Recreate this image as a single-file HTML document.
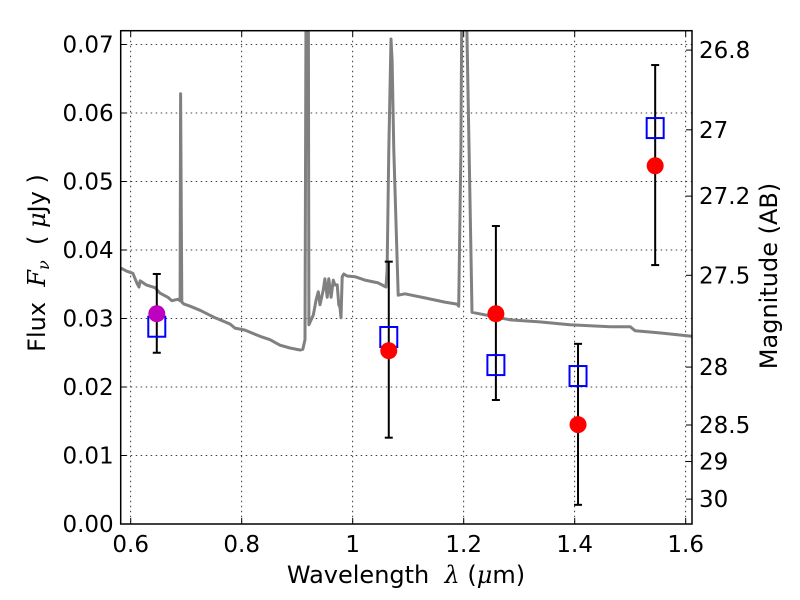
<!DOCTYPE html>
<html><head><meta charset="utf-8"><style>
html,body{margin:0;padding:0;background:#fff;}
svg{display:block;font-family:"DejaVu Sans","Liberation Sans",sans-serif;}
</style></head><body>
<svg id="chart" width="800" height="600" viewBox="0 0 800 600"></svg>
<script>
const xTicks=[0.6,0.8,1.0,1.2,1.4,1.6];
const xTickLabels=["0.6","0.8","1","1.2","1.4","1.6"];
const yTicks=[0,0.01,0.02,0.03,0.04,0.05,0.06,0.07];
const yTickLabels=["0.00","0.01","0.02","0.03","0.04","0.05","0.06","0.07"];
const magTicks=[26.8,27,27.2,27.5,28,28.5,29,30];
const magLabels=["26.8","27","27.2","27.5","28","28.5","29","30"];
const specWave=[0.581,0.593,0.604,0.611,0.615,0.617,0.628,0.644,0.653,0.667,0.674,0.685,0.689,0.690,0.692,0.696,0.707,0.725,0.752,0.779,0.788,0.806,0.833,0.851,0.869,0.887,0.905,0.910,0.914,0.916,0.920,0.921,0.925,0.929,0.934,0.938,0.941,0.947,0.950,0.954,0.957,0.961,0.965,0.968,0.972,0.975,0.977,0.979,0.981,0.984,0.990,1.004,1.022,1.046,1.060,1.062,1.065,1.069,1.071,1.074,1.082,1.094,1.130,1.166,1.188,1.191,1.195,1.197,1.204,1.213,1.215,1.247,1.284,1.337,1.391,1.464,1.500,1.509,1.553,1.611];
const specFlux=[.0374,.0369,.0366,.0352,.0346,.0355,.0349,.0345,.0337,.0331,.0326,.0328,.0326,.0628,.0324,.0321,.0318,.0312,.0301,.0292,.0286,.0283,.0274,.0269,.0261,.0257,.0254,.0255,.0269,.08,.08,.0291,.0298,.0305,.0327,.0339,.0320,.0342,.0358,.0331,.0358,.0331,.0356,.0349,.0349,.0320,.0317,.0301,.0361,.0365,.0362,.0361,.0356,.0352,.0346,.0371,.0546,.0708,.0677,.0546,.0334,.0336,.0330,.0324,.0321,.0318,.0546,.08,.08,.0400,.0309,.0304,.0298,.0295,.0291,.0288,.0288,.0282,.0279,.0274];
const bandWave=[0.647,1.065,1.258,1.406,1.545];
const obsFlux=[0.0307,0.0253,0.0307,0.0145,0.0523];
const modelFlux=[0.0288,0.0273,0.0232,0.0216,0.0578];
const errHigh=[0.0365,0.0383,0.0435,0.0263,0.0670];
const errLow=[0.0250,0.0126,0.0181,0.0028,0.0378];

const L=120.7,R=692,T=30.7,B=524;
const X=v=>130.7+(v-0.6)*555;
const Y=v=>B-v*6850;
const NS="http://www.w3.org/2000/svg";
const svg=document.getElementById('chart');
function el(tag,attrs,parent){const e=document.createElementNS(NS,tag);for(const k in attrs)e.setAttribute(k,attrs[k]);(parent||svg).appendChild(e);return e;}
const defs=el('defs',{});
const cp=el('clipPath',{id:'clip'},defs);el('rect',{x:L,y:T,width:R-L,height:B-T},cp);

const grid=el('g',{});


xTicks.forEach(t=>{el('line',{x1:X(t),x2:X(t),y1:T,y2:B,stroke:'#000','stroke-width':0.8,'stroke-dasharray':'1.5,3.5'},grid);});
yTicks.forEach(t=>{el('line',{x1:L,x2:R,y1:Y(t),y2:Y(t),stroke:'#000','stroke-width':0.8,'stroke-dasharray':'1.5,3.5'},grid);});

const spec=el('path',{d:specWave.map((w,i)=>(i?'L':'M')+X(w).toFixed(1)+','+Y(specFlux[i]).toFixed(1)).join(''),fill:'none',stroke:'#808080','stroke-width':3,'stroke-linejoin':'round','clip-path':'url(#clip)'});



bandWave.forEach((w,i)=>{
  const g=el('g',{});
  
  
  const x=X(w);
  el('line',{x1:x,x2:x,y1:Y(errHigh[i]),y2:Y(errLow[i]),stroke:'#000','stroke-width':2},g);
  el('line',{x1:x-4,x2:x+4,y1:Y(errHigh[i]),y2:Y(errHigh[i]),stroke:'#000','stroke-width':2},g);
  el('line',{x1:x-4,x2:x+4,y1:Y(errLow[i]),y2:Y(errLow[i]),stroke:'#000','stroke-width':2},g);
  el('rect',{x:x-8.5,y:Y(modelFlux[i])-10,width:17,height:20,fill:'none',stroke:'#0000ff','stroke-width':2},g);
  el('circle',{cx:x,cy:Y(obsFlux[i]),r:8.5,fill:i===0?'#bf00bf':'#ff0000'},g);
});

const frame=el('rect',{x:L,y:T,width:R-L,height:B-T,fill:'none',stroke:'#000','stroke-width':1.5});



xTicks.forEach((t,i)=>{
  el('line',{x1:X(t),x2:X(t),y1:B,y2:B-6,stroke:'#000'});
  el('line',{x1:X(t),x2:X(t),y1:T,y2:T+6,stroke:'#000'});
  const tx=el('text',{x:X(t),y:B+28,'font-size':23,'text-anchor':'middle'});tx.textContent=xTickLabels[i];
  
  
});
yTicks.forEach((t,i)=>{
  el('line',{x1:L,x2:L+6,y1:Y(t),y2:Y(t),stroke:'#000'});
  const tx=el('text',{x:L-7,y:Y(t)+8,'font-size':23,'text-anchor':'end'});tx.textContent=yTickLabels[i];
  
  
});
magTicks.forEach((m,i)=>{
  const f=Math.pow(10,(23.9-m)/2.5);const y=Y(f);
  el('line',{x1:R,x2:R-6,y1:y,y2:y,stroke:'#000'});
  const tx=el('text',{x:R+7,y:y+8,'font-size':23});tx.textContent=magLabels[i];
  
  
});
const xl=el('text',{x:406,y:583,'font-size':24,'text-anchor':'middle'});
xl.innerHTML='Wavelength&#160;&#160;<tspan font-family="DejaVu Serif" font-style="italic">λ</tspan> (<tspan font-family="DejaVu Serif" font-style="italic">μ</tspan>m)';


const yl=el('text',{x:0,y:0,'font-size':24,'text-anchor':'middle',transform:'translate(45,263) rotate(-90)'});
yl.innerHTML='Flux&#160;&#160;<tspan font-family="DejaVu Serif" font-style="italic">F<tspan font-size="16" dy="4">ν</tspan></tspan><tspan dy="-4">&#160;&#160;( </tspan><tspan font-family="DejaVu Serif" font-style="italic">μ</tspan>Jy )';


const rl=el('text',{x:0,y:0,'font-size':24,'text-anchor':'middle',transform:'translate(777,276) rotate(-90)'});
rl.textContent='Magnitude (AB)';


</script>
</body></html>
